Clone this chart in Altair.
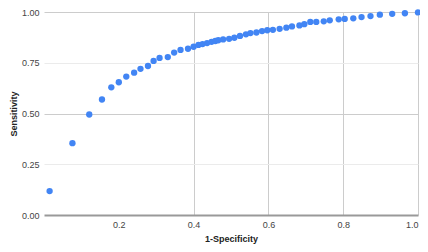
import altair as alt
import pandas as pd

fpr = [0.015, 0.076, 0.121, 0.155, 0.180, 0.200, 0.220, 0.241, 0.258, 0.278,
       0.293, 0.309, 0.331, 0.348, 0.365, 0.385, 0.400, 0.413, 0.424, 0.436,
       0.448, 0.458, 0.466, 0.479, 0.495, 0.509, 0.524, 0.540, 0.552, 0.568,
       0.583, 0.597, 0.612, 0.630, 0.648, 0.663, 0.683, 0.696, 0.712, 0.728,
       0.748, 0.764, 0.788, 0.804, 0.827, 0.849, 0.873, 0.898, 0.931, 0.965,
       1.000]
tpr = [0.118, 0.354, 0.495, 0.569, 0.629, 0.654, 0.682, 0.701, 0.720, 0.734,
       0.759, 0.774, 0.778, 0.800, 0.813, 0.819, 0.829, 0.838, 0.842, 0.847,
       0.853, 0.857, 0.861, 0.865, 0.868, 0.873, 0.882, 0.890, 0.896, 0.899,
       0.906, 0.910, 0.912, 0.917, 0.923, 0.929, 0.934, 0.940, 0.951, 0.951,
       0.954, 0.959, 0.964, 0.966, 0.969, 0.975, 0.980, 0.987, 0.991, 0.994,
       0.998]
x_ticks = [0.2, 0.4, 0.6, 0.8, 1.0]
y_ticks = [0.0, 0.25, 0.5, 0.75, 1.0]

df = pd.DataFrame({"fpr": fpr, "tpr": tpr})

font = "Liberation Sans"

chart = alt.Chart(df).mark_circle(size=40, color="#4285f4", opacity=1).encode(
    x=alt.X("fpr:Q", title="1-Specificity",
            scale=alt.Scale(domain=[0, 1], nice=False, zero=False),
            axis=alt.Axis(values=x_ticks, format=".1f", ticks=False,
                          domainColor="#999999", domainWidth=2,
                          gridColor="#cccccc",
                          gridOpacity={"expr": "datum.value < 0.3 ? 0 : 1"},
                          labelFont=font, labelFontSize=9, labelColor="#444444",
                          labelPadding=5, titleFont=font, titleFontSize=9,
                          titleFontWeight="bold", titleColor="#222222",
                          titlePadding=5)),
    y=alt.Y("tpr:Q", title="Sensitivity",
            scale=alt.Scale(domain=[0, 1], nice=False),
            axis=alt.Axis(values=y_ticks, format=".2f", ticks=False, domain=False,
                          gridColor={"expr": "(datum.value == 0.5 || datum.value == 1) ? '#cccccc' : '#ebebeb'"},
                          gridOpacity={"expr": "datum.value == 0 ? 0 : 1"},
                          labelFont=font, labelFontSize=9, labelColor="#444444",
                          labelPadding=5, titleFont=font, titleFontSize=9,
                          titleFontWeight="bold", titleColor="#222222",
                          titlePadding=3)),
).properties(
    width=374, height=203,
    autosize=alt.AutoSizeParams(type="none"),
    padding={"left": 36, "top": 4, "right": 2, "bottom": 29},
).configure_view(stroke=None)

chart.save("out.html", embed_options={"renderer": "svg", "actions": False})
